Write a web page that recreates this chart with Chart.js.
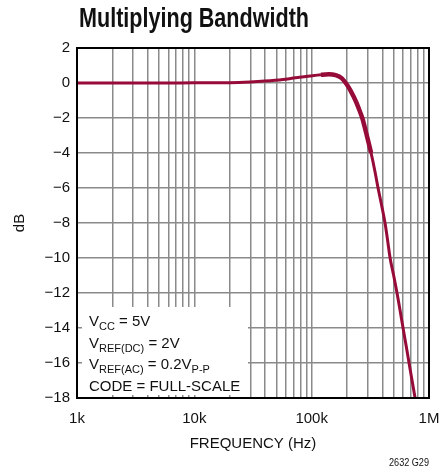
<!DOCTYPE html>
<html>
<head>
<meta charset="utf-8">
<script src="https://cdn.jsdelivr.net/npm/chart.js@4/dist/chart.umd.min.js"></script>
<style>
  html, body { margin: 0; padding: 0; background: #fff; }
</style>
</head>
<body>
<canvas id="chartBw" width="440" height="472"></canvas>
<script>
const freqHz = [1000, 2000, 5000, 10000, 20000, 30000, 40000, 57000, 70000, 97000,
  120000, 140000, 160000, 180000, 200000, 215000, 240000, 260000, 270000, 290000,
  321000, 345000, 368000, 395000, 422000, 444000, 466000, 500000, 534000, 567000,
  601000, 638000, 676000, 717000, 761000, 800000];
const gainDb = [0, 0, 0, 0.01, 0.02, 0.06, 0.11, 0.2, 0.28, 0.4,
  0.47, 0.5, 0.45, 0.28, -0.1, -0.45, -1.1, -1.7, -2, -2.8,
  -4, -5, -6, -7, -8, -9, -10, -11, -12, -13,
  -14, -15, -16, -17, -18, -18.9];

const yTicks = [2, 0, -2, -4, -6, -8, -10, -12, -14, -16, -18];
const xDecades = [1000, 10000, 100000, 1000000];
const xDecadeLabels = ["1k", "10k", "100k", "1M"];
const xMinorSteps = [2, 3, 4, 5, 6, 7, 8, 9];

const titleText = "Multiplying Bandwidth";
const noteId = "2632 G29";
// each line: [text, isSubscript]
const noteLines = [
  [["V", false], ["CC", true], [" = 5V", false]],
  [["V", false], ["REF(DC)", true], [" = 2V", false]],
  [["V", false], ["REF(AC)", true], [" = 0.2V", false], ["P-P", true]],
  [["CODE = FULL-SCALE", false]],
];

const FONT = '"Liberation Sans", Arial, sans-serif';
const curveColor = "#960b37";

var extras = {
  id: "extras",
  beforeDatasetsDraw(chart) {
    const c = chart.ctx;
    c.save();
    c.fillStyle = "#fff";
    c.fillRect(82, 307, 166, 88);
    c.fillStyle = "#111";
    c.textBaseline = "alphabetic";
    let y = 326;
    noteLines.forEach((line) => {
      let x = 89;
      line.forEach(([txt, sub]) => {
        c.font = (sub ? "11px " : "15px ") + FONT;
        c.fillText(txt, x, sub ? y + 4 : y);
        x += c.measureText(txt).width;
      });
      y += 21.7;
    });
    c.restore();
  },
  afterDraw(chart) {
    const c = chart.ctx;
    const a = chart.chartArea;
    c.save();
    c.strokeStyle = "#000";
    c.lineWidth = 2;
    c.strokeRect(a.left, a.top, a.right - a.left, a.bottom - a.top);

    c.fillStyle = "#111";
    c.textBaseline = "alphabetic";
    c.font = "bold 27px " + FONT;
    let w = c.measureText(titleText).width;
    c.save();
    c.translate(79, 27);
    c.scale(230 / w, 1);
    c.fillText(titleText, 0, 0);
    c.restore();

    c.font = "11px " + FONT;
    w = c.measureText(noteId).width;
    c.translate(429 - 40, 466);
    c.scale(40 / w, 1);
    c.fillText(noteId, 0, 0);
    c.restore();
  },
};

new Chart(document.getElementById("chartBw"), {
  type: "line",
  data: {
    datasets: [
      {
        data: freqHz.map((f, i) => ({ x: f, y: gainDb[i] })),
        borderColor: curveColor,
        borderWidth: 3,
        pointRadius: 0,
        cubicInterpolationMode: "monotone",
        segment: {
          borderWidth: (ctx) =>
            ctx.p0.parsed.x >= 110000 && ctx.p0.parsed.x < 300000 ? 4.5 : 3,
        },
      },
    ],
  },
  options: {
    responsive: false,
    animation: false,
    devicePixelRatio: 1,
    layout: { padding: { top: 48, right: 11, bottom: 0, left: 0 } },
    plugins: {
      legend: { display: false },
      tooltip: { enabled: false },
    },
    scales: {
      x: {
        type: "logarithmic",
        min: 1000,
        max: 1000000,
        afterBuildTicks: (scale) => {
          const t = [];
          xDecades.forEach((d, i) => {
            t.push({ value: d });
            if (i < xDecades.length - 1) xMinorSteps.forEach((m) => t.push({ value: d * m }));
          });
          scale.ticks = t;
        },
        afterFit: (scale) => {
          scale.height = 74;
          scale.paddingLeft = 0;
          scale.paddingRight = 0;
        },
        ticks: {
          autoSkip: false,
          maxRotation: 0,
          padding: 12,
          color: "#111",
          font: { family: FONT, size: 15 },
          callback: (v) => {
            const i = xDecades.indexOf(v);
            return i >= 0 ? xDecadeLabels[i] : "";
          },
        },
        grid: { color: "#8a8a8a", lineWidth: 1.5, drawTicks: false },
        border: { display: false },
        title: {
          display: true,
          text: "FREQUENCY (Hz)",
          color: "#111",
          font: { family: FONT, size: 15 },
          padding: { top: 0, bottom: 19 },
        },
      },
      y: {
        type: "linear",
        min: -18,
        max: 2,
        afterBuildTicks: (scale) => {
          scale.ticks = yTicks.map((v) => ({ value: v }));
        },
        afterFit: (scale) => {
          scale.width = 77;
          scale.paddingTop = 0;
          scale.paddingBottom = 0;
        },
        ticks: {
          padding: 7,
          color: "#111",
          font: { family: FONT, size: 15 },
          callback: (v) => (v < 0 ? "\u2212" + Math.abs(v) : String(v)),
        },
        grid: { color: "#8a8a8a", lineWidth: 1.5, drawTicks: false },
        border: { display: false },
        title: {
          display: true,
          text: "dB",
          color: "#111",
          font: { family: FONT, size: 15 },
          padding: { top: 11, bottom: 0 },
        },
      },
    },
  },
  plugins: [extras],
});
</script>
</body>
</html>
